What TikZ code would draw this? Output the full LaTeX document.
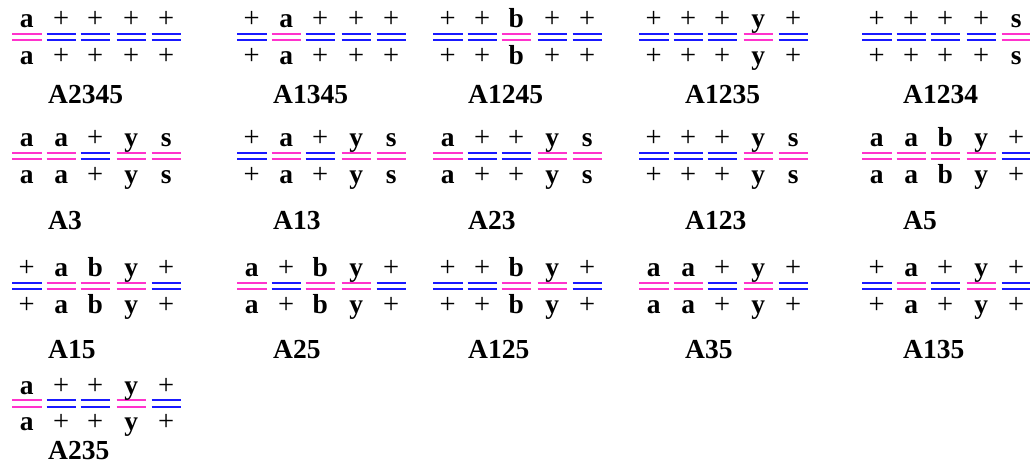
\documentclass[tikz,border=0pt]{standalone}
\usepackage{fontspec}
\setmainfont{Liberation Serif}
\definecolor{mg}{RGB}{255,51,204}
\definecolor{bl}{RGB}{25,25,255}
\tikzset{
  sym/.style={inner sep=0pt, anchor=base, font=\fontsize{27.5}{30}\selectfont},
  txtm/.style={font=\bfseries\fontsize{27.5}{30}\selectfont},
  txtb/.style={font=\fontsize{28.5}{30}\selectfont},
  lab/.style={inner sep=0pt, anchor=base west, font=\bfseries\fontsize{27.5}{30}\selectfont},
  seg/.style={line width=2pt},
  segm/.style={draw=mg},
  segb/.style={draw=bl}
}
% #1 name, #2 x start, #3 upper line y, #4 label x, #5 label baseline y, #6 label, #7 list
\newcommand\grp[7]{%
  \foreach \c/\s [count=\i] in {#7} {
    \pgfmathsetmacro\ox{{0,34.5,68.5,104.5,139.5}[\i-1]}
    \pgfmathsetmacro\xx{#2+\ox}
    \draw[seg,seg\c] (\xx,#3) -- ++(29.5,0);
    \draw[seg,seg\c] (\xx,#3+6.5) -- ++(29.5,0);
    \node[sym,txt\c] (#1t\i) at (\xx+14.75,#3-6) {\s};
    \node[sym,txt\c] (#1b\i) at (\xx+14.75,#3+30.5) {\s};
  }
  \node[lab] (#1l) at (#4,#5) {#6};
}
\begin{document}
\begin{tikzpicture}[x=1pt,y=-1pt]
\useasboundingbox (0,0) rectangle (1030,464);
% row 1
\grp{ga}{12}{33.5}{48}{103}{A2345}{m/a,b/+,b/+,b/+,b/+}
\grp{gb}{237}{33.5}{273}{103}{A1345}{b/+,m/a,b/+,b/+,b/+}
\grp{gc}{433}{33.5}{468}{103}{A1245}{b/+,b/+,m/b,b/+,b/+}
\grp{gd}{639}{33.5}{685}{103}{A1235}{b/+,b/+,b/+,m/y,b/+}
\grp{ge}{862}{33.5}{903}{103}{A1234}{b/+,b/+,b/+,b/+,m/s}
% row 2
\grp{gf}{12}{152.7}{48}{229}{A3}{m/a,m/a,b/+,m/y,m/s}
\grp{gg}{237}{152.7}{273}{229}{A13}{b/+,m/a,b/+,m/y,m/s}
\grp{gh}{433}{152.7}{468}{229}{A23}{m/a,b/+,b/+,m/y,m/s}
\grp{gi}{639}{152.7}{685}{229}{A123}{b/+,b/+,b/+,m/y,m/s}
\grp{gj}{862}{152.7}{903}{229}{A5}{m/a,m/a,m/b,m/y,b/+}
% row 3
\grp{gk}{12}{282.7}{48}{358}{A15}{b/+,m/a,m/b,m/y,b/+}
\grp{gl}{237}{282.7}{273}{358}{A25}{m/a,b/+,m/b,m/y,b/+}
\grp{gm}{433}{282.7}{468}{358}{A125}{b/+,b/+,m/b,m/y,b/+}
\grp{gn}{639}{282.7}{685}{358}{A35}{m/a,m/a,b/+,m/y,b/+}
\grp{go}{862}{282.7}{903}{358}{A135}{b/+,m/a,b/+,m/y,b/+}
% row 4
\grp{gp}{12}{400}{48}{459}{A235}{m/a,b/+,b/+,m/y,b/+}
\end{tikzpicture}
\end{document}
